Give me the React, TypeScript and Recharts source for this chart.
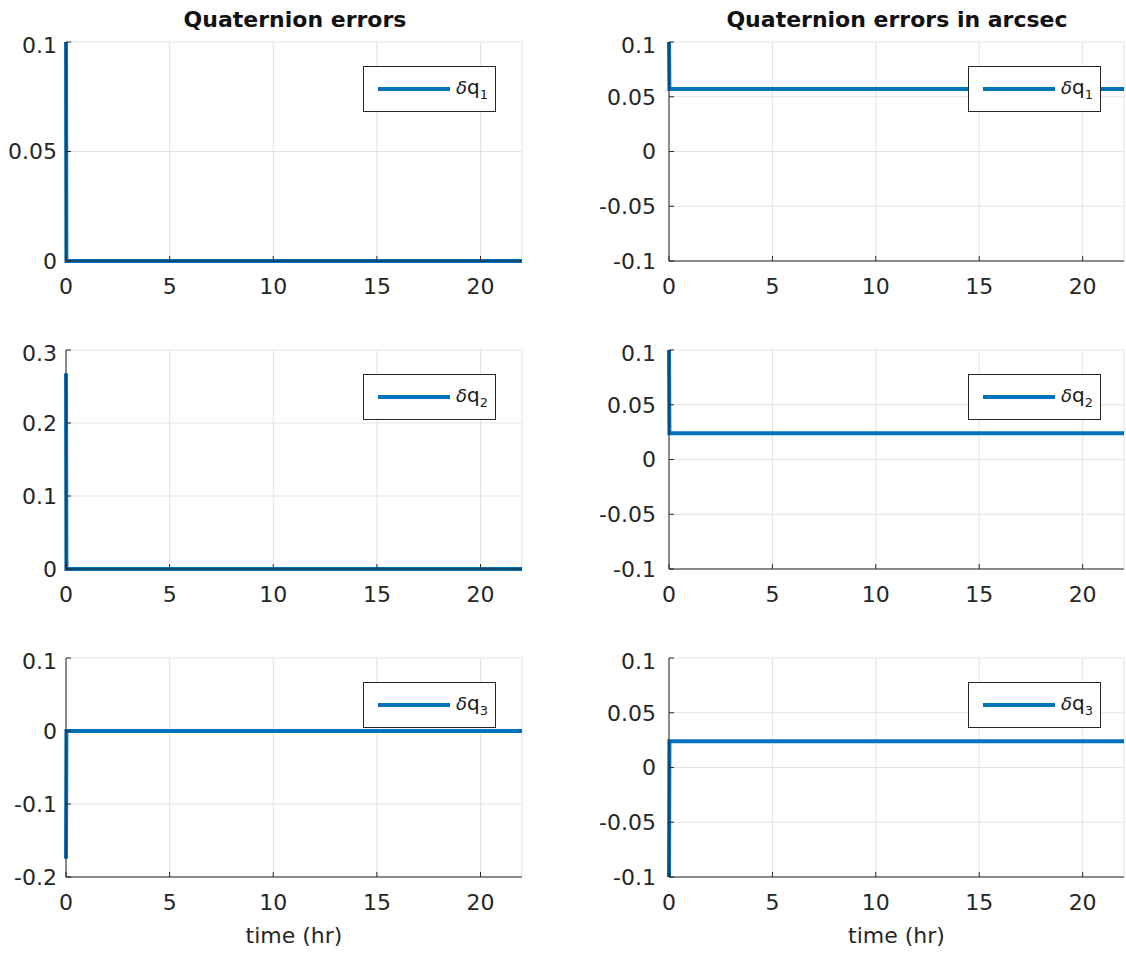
import React from 'react';
import { LineChart, Line, XAxis, YAxis, CartesianGrid, Legend } from 'recharts';

// time samples (hr) and the quaternion error traces
const time = [0, 0.02, 22];
const dq1 = [0.1, 0, 0];
const dq2 = [0.268, 0, 0];
const dq3 = [-0.175, 0, 0];
const dq1Arcsec = [0.1, 0.057, 0.057];
const dq2Arcsec = [0.1, 0.024, 0.024];
const dq3Arcsec = [-0.1, 0.024, 0.024];

const timeTicks = [0, 5, 10, 15, 20];
const ticksQ1 = [0, 0.05, 0.1];
const ticksQ2 = [0, 0.1, 0.2, 0.3];
const ticksQ3 = [-0.2, -0.1, 0, 0.1];
const ticksArcsec = [-0.1, -0.05, 0, 0.05, 0.1];

const titles = ['Quaternion errors', 'Quaternion errors in arcsec'];
const subscripts = ['1', '2', '3'];

const FONT = '"DejaVu Sans", Verdana, sans-serif';
const AXIS = '#262626';
const BLUE = '#0072BD';

type PanelProps = {
  values: number[];
  yTicks: number[];
  sub: string;
  left: number;
  top: number;
  width: number;
  yAxisWidth: number;
  yTickMargin: number;
  marginRight: number;
  legendLeft: number;
  showXLabel: boolean;
};

const LegendBox = ({ sub, color }: { sub: string; color: string }) => (
  <div
    style={{
      boxSizing: 'border-box',
      width: 133,
      height: 46,
      border: `1.5px solid ${AXIS}`,
      background: '#fff',
      display: 'flex',
      alignItems: 'center',
      fontFamily: FONT,
      color: '#1a1a1a',
    }}
  >
    <svg width={86} height={10} style={{ display: 'block' }}>
      <line x1={14} y1={5} x2={86} y2={5} stroke={color} strokeWidth={4} />
    </svg>
    <span style={{ fontSize: 20, marginLeft: 6, lineHeight: 1 }}>
      <span style={{ fontStyle: 'italic', fontSize: 18 }}>δ</span>q
      <sub style={{ fontSize: 13, verticalAlign: 'sub' }}>{sub}</sub>
    </span>
  </div>
);

const Panel = ({ values, yTicks, sub, left, top, width, yAxisWidth, yTickMargin, marginRight, legendLeft, showXLabel }: PanelProps) => {
  const data = time.map((t, i) => ({ t, v: values[i] }));
  const domain: [number, number] = [yTicks[0], yTicks[yTicks.length - 1]];
  const xHeight = showXLabel ? 70 : 40;
  return (
    <div style={{ position: 'absolute', left, top }}>
      <LineChart
        width={width}
        height={10 + 219 + xHeight}
        data={data}
        margin={{ top: 10, right: marginRight, left: 0, bottom: 0 }}
      >
        <CartesianGrid stroke="#e3e3e3" strokeWidth={1} />
        <XAxis
          dataKey="t"
          type="number"
          domain={[0, 22]}
          ticks={timeTicks}
          height={xHeight}
          stroke={AXIS}
          tickSize={-5}
          tickMargin={22}
          tick={{ fill: '#262626', fontSize: 22, fontFamily: FONT }}
          label={
            showXLabel
              ? { value: 'time (hr)', position: 'insideBottom', offset: 4, fill: '#262626', fontSize: 22, fontFamily: FONT }
              : undefined
          }
        />
        <XAxis
          xAxisId="top"
          orientation="top"
          dataKey="t"
          type="number"
          domain={[0, 22]}
          ticks={timeTicks}
          height={0}
          stroke={AXIS}
          tickSize={-5}
          tick={false}
        />
        <YAxis
          type="number"
          domain={domain}
          ticks={yTicks}
          width={yAxisWidth}
          stroke={AXIS}
          tickSize={-5}
          tickMargin={yTickMargin}
          tick={{ fill: '#262626', fontSize: 22, fontFamily: FONT }}
        />
        <YAxis
          yAxisId="right"
          orientation="right"
          type="number"
          domain={domain}
          ticks={yTicks}
          width={0}
          stroke={AXIS}
          tickSize={-5}
          tick={false}
        />
        <Line
          type="linear"
          dataKey="v"
          stroke={BLUE}
          strokeWidth={4}
          dot={false}
          isAnimationActive={false}
        />
        <Legend
          layout="horizontal"
          verticalAlign="middle"
          align="center"
          wrapperStyle={{ top: 34, left: legendLeft, width: 'auto', height: 'auto' }}
          content={() => <LegendBox sub={sub} color={BLUE} />}
        />
      </LineChart>
    </div>
  );
};

const rowTops = [42, 350, 658];
const leftSeries = [dq1, dq2, dq3];
const leftTicks = [ticksQ1, ticksQ2, ticksQ3];
const rightSeries = [dq1Arcsec, dq2Arcsec, dq3Arcsec];

const titleStyle: React.CSSProperties = {
  position: 'absolute',
  width: 456,
  top: 4,
  textAlign: 'center',
  fontWeight: 'bold',
  fontSize: 22,
  lineHeight: '32px',
  color: '#111',
  whiteSpace: 'nowrap',
};

export default function App() {
  return (
    <div
      style={{
        position: 'absolute',
        left: 0,
        top: 0,
        width: 1126,
        height: 954,
        background: '#fff',
        overflow: 'hidden',
        fontFamily: FONT,
      }}
    >
      <div style={{ ...titleStyle, left: 67 }}>{titles[0]}</div>
      <div style={{ ...titleStyle, left: 669 }}>{titles[1]}</div>
      {rowTops.map((rt, i) => (
        <Panel
          key={`l-${i}`}
          values={leftSeries[i]}
          yTicks={leftTicks[i]}
          sub={subscripts[i]}
          left={0}
          top={rt - 10}
          width={560}
          yAxisWidth={66}
          yTickMargin={14}
          marginRight={38}
          legendLeft={363}
          showXLabel={i === 2}
        />
      ))}
      {rowTops.map((rt, i) => (
        <Panel
          key={`r-${i}`}
          values={rightSeries[i]}
          yTicks={ticksArcsec}
          sub={subscripts[i]}
          left={560}
          top={rt - 10}
          width={566}
          yAxisWidth={109}
          yTickMargin={18}
          marginRight={2}
          legendLeft={408}
          showXLabel={i === 2}
        />
      ))}
    </div>
  );
}
